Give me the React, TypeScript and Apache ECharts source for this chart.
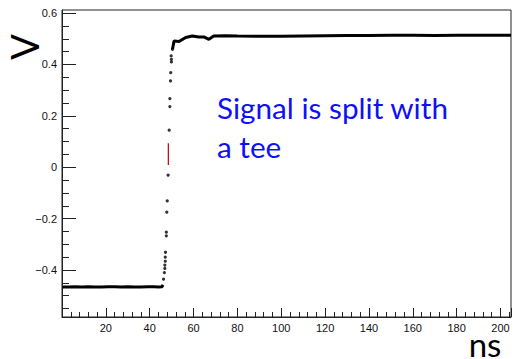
import React, { useEffect, useRef } from "react";
import * as echarts from "echarts";

// Baseline before the edge (ns, V)
const baseX = [0.3, 3, 6, 9, 12, 15, 18, 21, 24, 27, 30, 33, 36, 39, 42, 44, 45.6, 46.1];
const baseY = [-0.466, -0.466, -0.465, -0.466, -0.465, -0.466, -0.466, -0.465, -0.465, -0.466, -0.465, -0.466, -0.466, -0.465, -0.465, -0.466, -0.465, -0.458];

// Rising edge samples
const riseX = [46.3, 46.7, 46.9, 46.9, 47.1, 47.1, 47.2, 47.6, 47.6, 47.8, 48.0, 48.4, 48.9, 49.2, 49.2, 49.5, 49.6, 49.8, 49.9, 49.9, 50.4];
const riseY = [-0.436, -0.41, -0.394, -0.381, -0.366, -0.35, -0.331, -0.267, -0.253, -0.175, -0.131, -0.031, 0.144, 0.236, 0.267, 0.336, 0.368, 0.433, 0.41, 0.42, 0.459];

// Highlighted (red) segment on the edge
const redX = [48.5, 48.5];
const redY = [0.009, 0.093];

// Plateau after the edge
const topX = [50.4, 51.1, 53.4, 56.4, 59.4, 62.4, 64.7, 67.0, 69.2, 74.5, 80, 90, 100, 110, 120, 130, 140, 150, 160, 170, 180, 190, 200, 204.8];
const topY = [0.459, 0.491, 0.489, 0.505, 0.511, 0.507, 0.507, 0.498, 0.511, 0.512, 0.511, 0.51, 0.51, 0.511, 0.512, 0.513, 0.513, 0.514, 0.514, 0.513, 0.514, 0.514, 0.514, 0.514];

// Axis ticks
const xTickStep = 20;
const yMajorTicks = [-0.4, -0.2, 0, 0.2, 0.4, 0.6];
const yMinorTicks = [-0.55, -0.5, -0.45, -0.4, -0.35, -0.3, -0.25, -0.2, -0.15, -0.1, -0.05, 0, 0.05, 0.1, 0.15, 0.2, 0.25, 0.3, 0.35, 0.4, 0.45, 0.5, 0.55, 0.6];

const yMin = -0.583;
const yMax = 0.612;

const pairs = (xs: number[], ys: number[]) => xs.map((x, i) => [x, ys[i]]);

export default function App() {
  const ref = useRef<HTMLDivElement>(null);
  useEffect(() => {
    const chart = echarts.init(ref.current!, undefined, { renderer: "svg" });
    const axisCol = "#222";
    const fmtY = (v: number) => {
      const r = Math.round(v * 10) / 10;
      if (Math.abs(r) < 1e-9) return "0";
      return r < 0 ? "\u2212" + Math.abs(r).toString() : r.toString();
    };
    chart.setOption({
      animation: false,
      backgroundColor: "#fff",
      grid: { left: 62, top: 10, right: 0, bottom: 42, show: true, borderColor: axisCol, borderWidth: 1 },
      xAxis: {
        type: "value",
        min: 0,
        max: 204.8,
        interval: xTickStep,
        axisLine: { onZero: false, lineStyle: { color: axisCol, width: 1 } },
        axisTick: { inside: true, length: 9, lineStyle: { color: axisCol } },
        minorTick: { show: true, splitNumber: 5, length: 5, lineStyle: { color: axisCol } },
        splitLine: { show: false },
        axisLabel: {
          color: "#111",
          fontFamily: "Liberation Sans",
          fontSize: 11,
          margin: 5,
          formatter: (v: number) => (v > 0 && Math.abs(v / 20 - Math.round(v / 20)) < 1e-6 ? String(v) : ""),
        },
      },
      yAxis: [
        {
          type: "value",
          min: yMin,
          max: yMax,
          axisLine: { show: true, onZero: false, lineStyle: { color: axisCol, width: 1 } },
          axisTick: { show: true, inside: true, length: 14, customValues: yMajorTicks, lineStyle: { color: axisCol } },
          splitLine: { show: false },
          axisLabel: {
            color: "#111",
            fontFamily: "Liberation Sans",
            fontSize: 11,
            margin: 5,
            customValues: yMajorTicks,
            formatter: fmtY,
          },
        },
        {
          type: "value",
          position: "left",
          min: yMin,
          max: yMax,
          axisLine: { show: false, onZero: false },
          axisTick: { show: true, inside: true, length: 7, customValues: yMinorTicks, lineStyle: { color: axisCol } },
          splitLine: { show: false },
          axisLabel: { show: false },
        },
      ],
      series: [
        {
          type: "line",
          data: pairs(baseX, baseY),
          symbol: "none",
          lineStyle: { color: "#000", width: 3 },
        },
        {
          type: "line",
          data: pairs(topX, topY),
          symbol: "none",
          lineStyle: { color: "#000", width: 3 },
        },
        {
          type: "scatter",
          data: pairs(riseX, riseY),
          symbol: "circle",
          symbolSize: 3.2,
          itemStyle: { color: "#000" },
        },
        {
          type: "line",
          data: pairs(redX, redY),
          symbol: "none",
          lineStyle: { color: "#c00000", width: 1.2 },
        },
      ],
      graphic: [
        {
          type: "text",
          x: 24,
          y: 47,
          rotation: Math.PI / 2,
          style: { text: "V", font: "38px Lato", lineHeight: 28, fill: "#000", align: "center", verticalAlign: "middle" },
        },
        {
          type: "text",
          left: 217,
          top: 88,
          style: { text: "Signal is split with\na tee", font: "29.7px Lato", lineHeight: 39, fill: "#1010f5" },
        },
        {
          type: "text",
          x: 485,
          y: 344,
          style: { text: "ns", font: "33px Lato", lineHeight: 20, fill: "#000", align: "center", verticalAlign: "middle" },
        },
      ],
    });
    return () => chart.dispose();
  }, []);
  return <div ref={ref} style={{ width: 514, height: 359, position: "absolute", left: 0, top: 0 }} />;
}
